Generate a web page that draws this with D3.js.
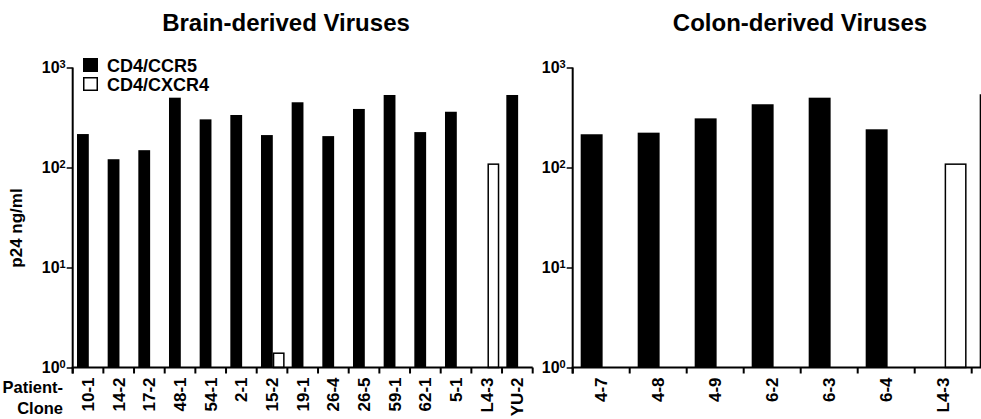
<!DOCTYPE html>
<html>
<head>
<meta charset="utf-8">
<script src="https://cdn.jsdelivr.net/npm/d3@7"></script>
<style>
  body { margin: 0; background: #fff; }
  svg text { font-family: "Liberation Sans", Arial, Helvetica, sans-serif; font-weight: bold; fill: #000; }
</style>
</head>
<body>
<div id="chart"></div>
<script>
// values (p24 ng/ml), null = no bar
var brainClones = ["10-1","14-2","17-2","48-1","54-1","2-1","15-2","19-1","26-4","26-5","59-1","62-1","5-1","L4-3","YU-2"];
var brainCCR5   = [216, 121, 149, 499, 303, 335, 211, 449, 206, 385, 531, 226, 361, null, 531];
var brainCXCR4  = [null, null, null, null, null, null, 1.39, null, null, null, null, null, null, 108, null];

// last category (YU-2) runs off the right edge in the original, only its bar edge shows
var colonClones = ["4-7","4-8","4-9","6-2","6-3","6-4","L4-3","YU-2"];
var colonCCR5   = [215, 223, 310, 429, 499, 241, null, 540];
var colonCXCR4  = [null, null, null, null, null, null, 108, null];

var seriesNames = ["CD4/CCR5", "CD4/CXCR4"];
var majorTicks  = [1, 10, 100, 1000];
var titles      = ["Brain-derived Viruses", "Colon-derived Viruses"];

var W = 981, H = 419;
var svg = d3.select("#chart").append("svg").attr("width", W).attr("height", H);

var y = d3.scaleLog().domain([1, 1000]).range([367.5, 67.5]);

function drawPanel(title, clones, ccr5, cxcr4, x0, x1, titleX) {
  var g = svg.append("g");
  var x = d3.scaleBand().domain(clones).range([x0, x1]).padding(0);
  var bw = x.bandwidth();
  var sub = d3.scaleBand().domain(seriesNames).range([0.14 * bw, 0.91 * bw]).padding(0);

  var rows = clones.map(function(c, i) { return { clone: c, a: ccr5[i], b: cxcr4[i] }; });

  // bars
  g.selectAll("rect.ccr5").data(rows.filter(function(d) { return d.a != null; }))
    .enter().append("rect").attr("class", "ccr5")
    .attr("x", function(d) { return x(d.clone) + sub(seriesNames[0]); })
    .attr("width", sub.bandwidth())
    .attr("y", function(d) { return y(d.a); })
    .attr("height", function(d) { return y(1) - y(d.a); })
    .attr("fill", "#000");

  g.selectAll("rect.cxcr4").data(rows.filter(function(d) { return d.b != null; }))
    .enter().append("rect").attr("class", "cxcr4")
    .attr("x", function(d) { return x(d.clone) + sub(seriesNames[1]) + 0.75; })
    .attr("width", sub.bandwidth() - 1.5)
    .attr("y", function(d) { return y(d.b); })
    .attr("height", function(d) { return y(1) - y(d.b); })
    .attr("fill", "#fff").attr("stroke", "#000").attr("stroke-width", 1.5);

  // x axis with ticks at category boundaries
  var bounds = clones.map(function(c) { return x(c); }).concat([x1]);
  g.append("line").attr("x1", x0 - 1).attr("x2", x1).attr("y1", y(1)).attr("y2", y(1))
    .attr("stroke", "#000").attr("stroke-width", 2);
  g.selectAll("line.xt").data(bounds).enter().append("line").attr("class", "xt")
    .attr("x1", function(d) { return d; }).attr("x2", function(d) { return d; })
    .attr("y1", y(1)).attr("y2", y(1) + 6)
    .attr("stroke", "#000").attr("stroke-width", 2);

  // labels only for categories that fall inside the picture
  g.selectAll("text.xl").data(clones.filter(function(d) { return x(d) + bw / 2 < W - 8; }))
    .enter().append("text").attr("class", "xl")
    .attr("transform", function(d) { return "translate(" + (x(d) + bw / 2) + "," + (y(1) + 10) + ") rotate(-90)"; })
    .attr("text-anchor", "end").attr("dy", "0.36em")
    .style("font-size", "17px")
    .text(function(d) { return d; });

  // y axis (log, minor ticks)
  var minor = y.ticks().filter(function(t) { return majorTicks.indexOf(t) < 0; });
  var yMinor = d3.axisLeft(y).tickValues(minor).tickSize(3).tickFormat("");
  var yMajor = d3.axisLeft(y).tickValues(majorTicks).tickSize(6).tickFormat("").tickSizeOuter(0);
  var ga = g.append("g").attr("transform", "translate(" + x0 + ",0)");
  ga.call(yMinor);
  ga.call(yMajor);
  ga.selectAll(".domain").remove();
  ga.selectAll("line").attr("stroke", "#000").attr("stroke-width", 1.5);
  ga.append("line").attr("x1", 0).attr("x2", 0).attr("y1", y(1000)).attr("y2", y(1) + 6)
    .attr("stroke", "#000").attr("stroke-width", 2);

  var lab = g.selectAll("text.yl").data(majorTicks).enter().append("text").attr("class", "yl")
    .attr("x", x0 - 7).attr("y", function(d) { return y(d); })
    .attr("text-anchor", "end").style("font-size", "16px");
  lab.append("tspan").attr("dy", "0.36em").text("10");
  lab.append("tspan").attr("dy", "-0.45em").style("font-size", "11px")
    .text(function(d) { return Math.round(Math.log10(d)); });

  g.append("text").attr("x", titleX).attr("y", 31).attr("text-anchor", "middle")
    .style("font-size", "24px").text(title);
  return x;
}

drawPanel(titles[0], brainClones, brainCCR5, brainCXCR4, 72.7, 532.7, 286);
drawPanel(titles[1], colonClones, colonCCR5, colonCXCR4, 572.7, 572.7 + 8 * 57, 800);

// y title
svg.append("text").attr("transform", "translate(16,228) rotate(-90)")
  .attr("text-anchor", "middle").attr("dy", "0.36em").style("font-size", "17px").text("p24 ng/ml");

// Patient-Clone caption
svg.append("text").attr("x", 63).attr("y", 393).attr("text-anchor", "end").style("font-size", "16.5px").text("Patient-");
svg.append("text").attr("x", 63).attr("y", 414).attr("text-anchor", "end").style("font-size", "16.5px").text("Clone");

// legend
var leg = svg.append("g").selectAll("g").data(seriesNames).enter().append("g")
  .attr("transform", function(d, i) { return "translate(83," + (58 + i * 19) + ")"; });
leg.append("rect").attr("x", 0.75).attr("y", 0.75).attr("width", 13.5).attr("height", 12.5)
  .attr("fill", function(d, i) { return i === 0 ? "#000" : "#fff"; })
  .attr("stroke", "#000").attr("stroke-width", 1.5);
leg.append("text").attr("x", 24).attr("y", 14).style("font-size", "18px").text(function(d) { return d; });
</script>
</body>
</html>
